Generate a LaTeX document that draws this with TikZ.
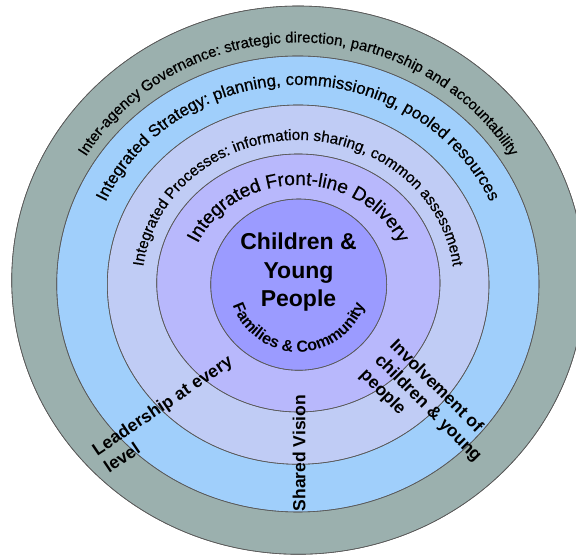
\documentclass[tikz,border=0pt]{standalone}
\usepackage{fontspec}
\setmainfont{Liberation Sans}
\newfontfamily\ringfont[FakeBold=0.6]{Liberation Sans}
\usetikzlibrary{decorations.text}
\definecolor{ringA}{HTML}{9BB0AE}
\definecolor{ringB}{HTML}{A0CFFB}
\definecolor{ringC}{HTML}{C0CCF5}
\definecolor{ringD}{HTML}{B8B8FC}
\definecolor{ringE}{HTML}{9B9BFF}
\definecolor{edgegray}{HTML}{5A5A5A}
\begin{document}
\begin{tikzpicture}[x=1pt,y=1pt,
  ring/.style={draw=edgegray, line width=0.6pt},
  lbl/.style={font=\bfseries\fontsize{17.5}{21}\selectfont, inner sep=0pt, align=left},
  arctext/.style={decorate, decoration={text along path, text align=center, text={#1}}}]
\useasboundingbox (0,0) rectangle (576,556);
\clip (0,0) rectangle (576,556);
\coordinate (c1) at (298.2,275.85);
\coordinate (c2) at (297.85,272);
\coordinate (c3) at (298.15,271.35);
\coordinate (c4) at (298.35,273);
\coordinate (c5) at (298.7,271.35);
% rings
\fill[ring, fill=ringA] (c1) ellipse[x radius=286.5, y radius=274.15];
\fill[ring, fill=ringB] (c2) ellipse[x radius=241.15, y radius=228];
\fill[ring, fill=ringC] (c3) ellipse[x radius=190.85, y radius=179.65];
\fill[ring, fill=ringD] (c4) ellipse[x radius=141.65, y radius=129];
\fill[ring, fill=ringE] (c5) ellipse[x radius=88, y radius=85.65];
\draw[ring] (c1) ellipse[x radius=286.5, y radius=274.15];
\draw[ring] (c2) ellipse[x radius=241.15, y radius=228];
\draw[ring] (c3) ellipse[x radius=190.85, y radius=179.65];
\draw[ring] (c4) ellipse[x radius=141.65, y radius=129];
\draw[ring] (c5) ellipse[x radius=88, y radius=85.65];
% curved texts
\path[arctext={|\ringfont\fontsize{15}{18}\selectfont|Inter-agency Governance: strategic direction, partnership and accountability}, shift={(c1)}]
  (195:248.4 and 237.65) arc[start angle=195, end angle=-15, x radius=248.4, y radius=237.65];
\path[arctext={|\ringfont\fontsize{16.8}{19}\selectfont|Integrated Strategy: planning, commissioning, pooled resources}, shift={(c2)}]
  (195:211 and 199) arc[start angle=195, end angle=-15, x radius=211, y radius=199];
\path[arctext={|\ringfont\fontsize{15.3}{18}\selectfont|Integrated Processes: information sharing, common assessment}, shift={(c3)}]
  (195:156 and 144.65) arc[start angle=195, end angle=-15, x radius=156, y radius=144.65];
\path[arctext={|\ringfont\fontsize{19}{22}\selectfont|Integrated Front-line Delivery}, shift={(c4)}]
  (195:110 and 98) arc[start angle=195, end angle=-15, x radius=110, y radius=98];
\path[arctext={|\bfseries\fontsize{16}{19}\selectfont|Families {\&} Community}, shift={(c5)}]
  (185:69.2 and 67.35) arc[start angle=185, end angle=355, x radius=69.2, y radius=67.35];
% centre text
\node[font=\bfseries\fontsize{23}{28.5}\selectfont, align=center, inner sep=0pt] (cyp) at (298.5,283.5) {Children \&\\Young\\People};
% straight labels
\node[lbl, rotate=90] (vision) at (299,103) {Shared Vision};
\node[lbl, rotate=34, anchor=north west] (lead) at (90.1,110.3) {Leadership at every\\level};
\node[lbl, rotate=-45, anchor=north west] (inv) at (398,219) {Involvement of\\children \& young\\people};
\end{tikzpicture}
\end{document}
